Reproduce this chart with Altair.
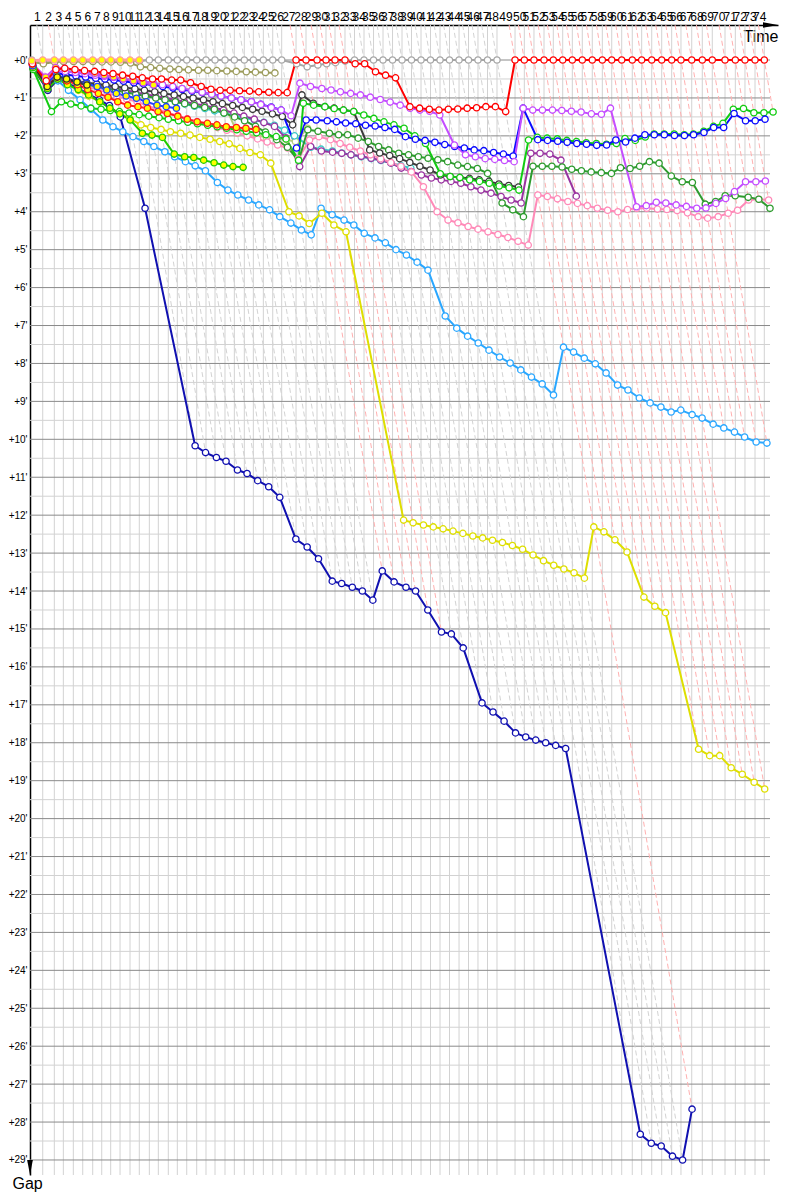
import altair as alt
import pandas as pd

# leader's elapsed time (minutes) at the end of each lap 0..74
leader_time = [0, 1.72, 3.53, 4.94, 6.50, 7.97, 9.53, 10.94, 12.34, 13.80,
               15.36, 16.81, 18.38, 19.78, 21.34, 22.75, 24.22, 25.78, 27.23, 28.64,
               30.20, 31.66, 33.22, 34.63, 36.19, 37.66, 39.06, 41.30, 42.86, 44.58,
               45.98, 47.39, 48.95, 50.44, 51.92, 53.41, 54.89, 56.38, 57.86, 59.34,
               60.83, 62.31, 63.80, 65.28, 66.77, 68.25, 69.73, 71.22, 72.70, 75.52,
               76.97, 78.48, 80.05, 81.50, 82.97, 84.47, 86.03, 87.59, 89.16, 90.63,
               92.19, 93.84, 95.31, 96.88, 98.44, 100.00, 101.45, 103.13, 104.78, 106.34,
               108.33, 109.94, 111.45, 113.02, 114.47]

lap_labels = [str(n) for n in range(1, 75)]
gap_ticks = list(range(0, 30))
red_led_laps = [27, 28, 29, 30, 31, 32] + list(range(49, 75))
pink_led_laps = [2]

# gap to leader (minutes) per lap, starting at lap 0
gap_G = [0, 0.05, 0.04, 0.03, 0.03, 0.03, 0.03, 0.03, 0.03, 0.03, 0.03, 0.03,
         0, 0, 0, 0, 0, 0, 0, 0, 0, 0, 0, 0, 0, 0, 0,
         0.1, 0.18, 0.13, 0.1, 0.07, 0.03,
         0, 0, 0, 0, 0, 0, 0, 0, 0, 0, 0, 0, 0, 0, 0, 0]
gap_O = [0.05, 0.1, 0.05, 0.04, 0.04, 0.04, 0.04, 0.05, 0.05, 0.06, 0.08, 0.18, 0.2,
         0.22, 0.24, 0.25, 0.26, 0.27, 0.27, 0.28, 0.29, 0.3, 0.31, 0.32, 0.33, 0.34]
gap_SG = [0.1, 0.5, 0.2, 0.25, 0.28, 0.32, 0.36, 0.4, 0.44, 0.48, 0.52, 0.56, 0.6, 0.65,
          0.7, 0.75, 0.8, 0.86, 0.92, 0.97, 1.93, 1.97, 2.0, 2.03, 2.06, 2.1, 2.15, 1.8]
gap_C = [0.2, 0.72, 0.45, 0.5, 0.55, 0.6, 0.65, 0.7, 0.75, 0.8, 0.86, 0.92, 0.98, 1.04,
         1.1, 1.16, 1.22, 1.28, 1.34, 1.4, 1.46, 1.52, 1.58, 1.64, 1.72, 1.85, 2.0,
         2.3, 2.35, 2.4, 2.45, 2.5, 2.55, 2.6, 2.65, 2.72, 2.78, 2.85]
gap_PU = [0.2, 0.7, 0.45, 0.5, 0.55, 0.6, 0.65, 0.7, 0.75, 0.8, 0.85, 0.9, 0.95, 1.0,
          1.05, 1.1, 1.15, 1.2, 1.26, 1.32, 1.4, 1.48, 1.56, 1.65, 1.75, 2.05, 2.81,
          2.28, 2.4, 2.43, 2.46, 2.5, 2.54, 2.59, 2.64, 2.72, 2.85, 2.94, 3.03, 3.11,
          3.16, 3.2, 3.25, 3.34, 3.43, 3.51, 3.6, 3.69, 3.77,
          2.46, 2.46, 2.48, 2.64, 3.59]
gap_P = [0.15, 0.7, 0.5, 0.55, 0.62, 0.7, 0.78, 0.86, 0.95, 1.03, 1.1, 1.2, 1.3, 1.38,
         1.47, 1.55, 1.62, 1.7, 1.78, 1.85, 1.92, 2.0, 2.08, 2.16, 2.24, 2.32, 2.6,
         2.11, 2.02, 2.1, 2.2, 2.3, 2.4, 2.5, 2.6, 2.7, 2.8, 2.95,
         3.34, 4.0, 4.22, 4.29, 4.39, 4.46, 4.53, 4.6, 4.68, 4.78, 4.88,
         3.56, 3.6, 3.66,
         3.73, 3.78, 3.84, 3.91, 3.96, 4.0, 3.94, 3.91, 3.91, 3.93, 3.94, 3.97, 4.03,
         4.13, 4.17, 4.13, 4.04, 3.96, 3.69, 3.67, 3.69]
gap_DG = [0.2, 0.75, 0.5, 0.55, 0.6, 0.65, 0.7, 0.75, 0.8, 0.85, 0.9, 0.95, 1.0, 1.05,
          1.1, 1.15, 1.2, 1.25, 1.3, 1.4, 1.5, 1.6, 1.75, 1.9, 2.1, 2.3, 2.65,
          1.84, 1.88, 1.93, 1.97, 1.97, 2.06, 2.15, 2.28, 2.37, 2.46, 2.5, 2.55, 2.59,
          2.63, 2.68, 2.77, 2.81, 2.86, 2.99, 3.77, 3.95, 4.13,
          2.8, 2.8, 2.8, 2.82, 2.88, 2.92, 2.95, 2.97, 2.99, 2.84, 2.86, 2.8, 2.68,
          2.72, 3.06, 3.21, 3.23, 3.8, 3.73, 3.58, 3.58, 3.62, 3.67, 3.91]
gap_K = [0.2, 0.79, 0.53, 0.55, 0.58, 0.6, 0.63, 0.66, 0.7, 0.73, 0.76, 0.8, 0.84, 0.88,
         0.92, 0.96, 1.0, 1.05, 1.1, 1.15, 1.2, 1.25, 1.3, 1.35, 1.42, 1.49, 1.71,
         0.92, 1.14, 1.23, 1.27, 1.32, 1.36,
         2.37, 2.45, 2.52, 2.6, 2.7, 2.8, 2.9,
         3.03, 3.07, 3.1, 3.12, 3.16, 3.2, 3.27, 3.31, 3.35]
gap_LB = [0.2, 0.75, 0.55, 0.8, 1.05, 1.3, 1.58, 1.76, 1.89, 2.02, 2.15, 2.28, 2.42,
          2.55, 2.68, 2.79, 2.92, 3.23, 3.43, 3.56, 3.69, 3.82, 3.95, 4.13, 4.3, 4.48, 4.61,
          3.91, 4.08, 4.22, 4.35, 4.57, 4.69, 4.82, 5.0, 5.14, 5.33, 5.54, 6.75, 7.07,
          7.28, 7.46, 7.65, 7.83, 7.99, 8.17, 8.36, 8.54, 8.83,
          7.57, 7.7, 7.86, 8.01, 8.25, 8.57, 8.7, 8.91, 9.04, 9.15, 9.28, 9.23, 9.35,
          9.44, 9.6, 9.7, 9.81, 9.94, 10.07, 10.1]
gap_Y = [0.2, 0.8, 0.5, 0.65, 0.8, 0.95, 1.1, 1.25, 1.4, 1.55,
         1.71, 1.78, 1.83, 1.89, 1.93, 1.98, 2.04, 2.09, 2.15, 2.21, 2.33, 2.44, 2.5, 2.72,
         4.0, 4.11, 4.31, 4.04, 4.35, 4.53,
         12.13, 12.2, 12.26, 12.31, 12.36, 12.42, 12.48, 12.55, 12.6, 12.66, 12.72,
         12.8, 12.9, 13.05, 13.2, 13.32, 13.42, 13.52, 13.66,
         12.31, 12.44, 12.65, 12.97, 14.16, 14.4, 14.57, 18.17, 18.34, 18.34, 18.66,
         18.83, 19.04, 19.22]
gap_N = [0.2, 0.8, 0.5, 0.6, 0.75, 0.9, 1.05, 1.2, 1.5,
         3.91, 10.17, 10.35, 10.48, 10.58, 10.81, 10.9, 11.09, 11.25, 11.53, 12.63,
         12.84, 13.15, 13.74, 13.8, 13.9, 14.0, 14.24, 13.47, 13.76, 13.9, 14.0, 14.5,
         15.08, 15.13, 15.5,
         16.95, 17.19, 17.43, 17.74, 17.85, 17.93, 18.0, 18.07, 18.15,
         28.32, 28.56, 28.63, 28.9, 29.0, 27.66]
gap_LG = [0.25, 1.36, 1.1, 1.16, 1.21, 1.27, 1.3, 1.33, 1.36, 1.4, 1.44, 1.48, 1.52,
          1.56, 1.6, 1.64, 1.68, 1.72, 1.76, 1.8, 1.84, 1.88, 1.92, 1.97, 2.02, 2.08, 2.64,
          1.14, 1.19, 1.23, 1.28, 1.32, 1.36, 1.45, 1.54, 1.63, 1.71, 1.8, 2.0, 2.2,
          3.0, 3.07, 3.1, 3.16, 3.2, 3.25, 3.32, 3.37, 3.43,
          2.11, 2.04, 2.06, 2.08, 2.12, 2.15, 2.18, 2.2, 2.22, 2.2, 2.07, 2.12, 2.03,
          1.95, 1.95, 1.95, 1.97, 1.95, 1.88, 1.75,
          1.67, 1.3, 1.28, 1.39, 1.39, 1.37]
gap_B = [0.15, 0.6, 0.35, 0.38, 0.42, 0.45, 0.48, 0.5, 0.53, 0.56, 0.6, 0.63, 0.66, 0.7,
         0.74, 0.78, 0.82, 0.86, 0.9, 0.95, 1.0, 1.05, 1.1, 1.17, 1.24, 1.32, 2.32,
         1.58, 1.58, 1.6, 1.63, 1.66, 1.68, 1.72, 1.74, 1.78, 1.83, 2.02, 2.09, 2.12,
         2.17, 2.23, 2.28, 2.32, 2.37, 2.39, 2.44, 2.48, 2.53,
         1.27,
         2.1, 2.12, 2.14, 2.17, 2.2, 2.22, 2.25, 2.24, 2.11, 2.16, 2.06, 1.97, 1.97,
         1.97, 1.99, 1.99, 1.97, 1.91, 1.78, 1.78, 1.41, 1.6, 1.6, 1.56]
gap_M = [0.15, 0.6, 0.3, 0.3, 0.33, 0.36, 0.4, 0.43, 0.46, 0.5, 0.53, 0.56, 0.6, 0.65,
         0.7, 0.75, 0.8, 0.85, 0.9, 0.95, 1.0, 1.05, 1.1, 1.17, 1.25, 1.32, 1.47,
         0.61, 0.70, 0.75, 0.79, 0.84, 0.88, 0.92, 0.98, 1.04, 1.11, 1.19, 1.27, 1.32,
         1.35, 1.45,
         2.24, 2.5, 2.55, 2.6, 2.62, 2.65, 2.68,
         1.27, 1.32, 1.32, 1.32, 1.33, 1.35, 1.37, 1.42, 1.43, 1.27,
         3.87, 3.84, 3.75, 3.77, 3.82, 3.86, 3.91, 3.9, 3.78, 3.65, 3.47, 3.21, 3.21, 3.19]
gap_GY = [0.2, 0.75, 0.5, 0.65, 0.78, 0.92, 1.1, 1.27, 1.42, 1.58, 1.93, 1.98, 2.04,
          2.48, 2.55, 2.57, 2.64, 2.71, 2.77, 2.81, 2.83]
gap_RY = [0.15, 0.65, 0.45, 0.55, 0.65, 0.78, 0.88, 0.98, 1.1, 1.19, 1.23, 1.27, 1.36,
          1.41, 1.48, 1.56, 1.63, 1.67, 1.71, 1.76, 1.78, 1.8, 1.83]
gap_BY = [0.15, 0.6, 0.4, 0.48, 0.57, 0.62, 0.7, 0.79, 0.88, 0.95, 1.01, 1.1, 1.19,
          1.23, 1.27]
gap_MY = [0.1, 0.45, 0.2, 0.22, 0.26, 0.3, 0.35, 0.4, 0.45, 0.5, 0.55, 0.6, 0.66]
gap_KY = [0.1, 0.7, 0.45, 0.5, 0.58, 0.66]
gap_R = [0.1, 0.55, 0.25, 0.22, 0.25, 0.28, 0.3, 0.33, 0.36, 0.4, 0.43, 0.47, 0.5, 0.5,
         0.53, 0.53, 0.6, 0.7, 0.77, 0.8, 0.8, 0.81, 0.82, 0.84, 0.85, 0.86, 0.86,
         0, 0, 0, 0, 0, 0,
         0.1, 0.1, 0.31, 0.4, 0.47,
         1.23, 1.27, 1.3, 1.32, 1.3, 1.29, 1.27, 1.26, 1.23, 1.23, 1.36,
         0, 0, 0, 0, 0, 0, 0, 0, 0, 0, 0, 0, 0, 0, 0, 0, 0, 0, 0, 0, 0, 0, 0, 0, 0, 0]
gap_PY = [0.02, 0, 0, 0, 0, 0, 0, 0, 0, 0, 0, 0]

car_names = ["G", "O", "SG", "C", "PU", "P", "DG", "K", "LB", "Y", "N", "LG", "B",
             "M", "GY", "RY", "BY", "MY", "KY", "R", "PY"]
car_gaps = [gap_G, gap_O, gap_SG, gap_C, gap_PU, gap_P, gap_DG, gap_K, gap_LB, gap_Y,
            gap_N, gap_LG, gap_B, gap_M, gap_GY, gap_RY, gap_BY, gap_MY, gap_KY, gap_R,
            gap_PY]
car_colors = ["#a6a6a6", "#9c9c5c", "#b5cc80", "#3cc8c8", "#9933a0", "#ff8ab8",
              "#2e9b2e", "#3a3a3a", "#2aa7ff", "#dede00", "#1010b0", "#11cc11",
              "#0a0aff", "#c44dff", "#22cc00", "#ff1a1a", "#1f3fff", "#cc44ee",
              "#303030", "#ff0000", "#ff9e9e"]
car_fills = ["white", "white", "white", "white", "white", "white", "white", "white",
             "white", "white", "white", "white", "white", "white", "#ffff00", "#ffff00",
             "#ffff00", "#ffff00", "#ffff00", "white", "#ffff00"]
car_widths = [2, 2, 2, 2, 2, 2, 2, 2, 2, 2, 2, 2, 2, 2, 2, 2, 2, 2, 2, 2, 3]

# ---- tables built from the arrays ----
rows = []
for order, (name, gaps, fillc, w) in enumerate(zip(car_names, car_gaps, car_fills, car_widths)):
    for lap, g in enumerate(gaps):
        rows.append({"car": name, "lap": lap, "gap": g, "t": leader_time[lap] + g,
                     "fillc": fillc, "w": w, "ord": order})
pts = pd.DataFrame(rows)

Y_MIN, Y_MAX = -0.923, 29.396
X_MIN, X_MAX = -0.27, 116.61
X_GRID_END = 115.36

maxgap = pts.groupby("lap")["gap"].max()
dash_rows = []
for lap in range(1, 75):
    col = "#d3d3d3"
    if lap in red_led_laps:
        col = "#ffb0b0"
    if lap in pink_led_laps:
        col = "#ffc0c0"
    mg = float(maxgap.get(lap, 0))
    dash_rows.append({"x1": leader_time[lap] + Y_MIN, "y1": Y_MIN,
                      "x2": leader_time[lap] + mg, "y2": mg, "col": col})
dashes = pd.DataFrame(dash_rows)

vgrid = pd.DataFrame({"t": leader_time[1:], "y1": Y_MIN, "y2": Y_MAX})
hmajor = pd.DataFrame({"g": gap_ticks, "x1": X_MIN, "x2": X_GRID_END})
hminor = pd.DataFrame({"g": [v + 0.5 for v in gap_ticks[:-1]], "x1": X_MIN, "x2": X_GRID_END})
labels = pd.DataFrame({"mid": [(leader_time[i - 1] + leader_time[i]) / 2 for i in range(1, 75)],
                       "lab": lap_labels, "y": Y_MIN})
arrows = pd.DataFrame({"x": [X_MAX - 1.17, X_MIN], "y": [Y_MIN, Y_MAX - 0.198],
                       "shape": ["M-1,-0.38L1,0L-1,0.38Z", "M-0.38,-1L0,1L0.38,-1Z"]})

xs = alt.Scale(domain=[X_MIN, X_MAX], nice=False, zero=False)
ys = alt.Scale(domain=[Y_MIN, Y_MAX], nice=False, zero=False, reverse=True)
color_scale = alt.Scale(domain=car_names, range=car_colors)

FONT = "Liberation Sans"

x_axis = alt.Axis(
    orient="top", labels=False, ticks=False, grid=False, domainColor="black",
    domainWidth=1.5, title="Time", titleX=748, titleY=16, titleAlign="right",
    titleBaseline="alphabetic", titleFont=FONT, titleFontSize=16,
    titleFontWeight="normal", titleColor="black")
y_axis = alt.Axis(
    values=gap_ticks, labelExpr="'+' + datum.value + \"'\"", ticks=False, grid=False,
    domainColor="black", domainWidth=1.5, labelFont=FONT, labelFontSize=10,
    labelColor="black", labelPadding=3, title="Gap", titleX=-18, titleY=1163,
    titleAngle=0, titleAlign="left", titleBaseline="alphabetic", titleFont=FONT,
    titleFontSize=16, titleFontWeight="normal", titleColor="black")

vg = alt.Chart(vgrid).mark_rule(color="#d2d2d2", strokeWidth=1).encode(
    x=alt.X("t:Q", scale=xs, axis=x_axis), y=alt.Y("y1:Q", scale=ys, axis=y_axis), y2="y2:Q")
hmi = alt.Chart(hminor).mark_rule(color="#d2d2d2", strokeWidth=1).encode(
    y=alt.Y("g:Q", scale=ys, axis=y_axis), x=alt.X("x1:Q", scale=xs, axis=x_axis), x2="x2:Q")
hma = alt.Chart(hmajor).mark_rule(color="#8a8a8a", strokeWidth=1).encode(
    y=alt.Y("g:Q", scale=ys, axis=y_axis), x=alt.X("x1:Q", scale=xs, axis=x_axis), x2="x2:Q")

dl = alt.Chart(dashes).mark_rule(strokeDash=[5, 3], strokeWidth=1).encode(
    x=alt.X("x1:Q", scale=xs, axis=x_axis), y=alt.Y("y1:Q", scale=ys, axis=y_axis),
    x2="x2:Q", y2="y2:Q", color=alt.Color("col:N", scale=None))

lines = alt.Chart(pts).mark_line(strokeJoin="round").encode(
    x=alt.X("t:Q", scale=xs, axis=x_axis),
    y=alt.Y("gap:Q", scale=ys, axis=y_axis),
    color=alt.Color("car:N", scale=color_scale, legend=None),
    strokeWidth=alt.StrokeWidth("w:Q", scale=None),
    order="lap:Q")

points = alt.Chart(pts).mark_point(shape="circle", filled=True, size=40, strokeWidth=1.3,
                                   opacity=1).encode(
    x=alt.X("t:Q", scale=xs, axis=x_axis), y=alt.Y("gap:Q", scale=ys, axis=y_axis),
    fill=alt.Fill("fillc:N", scale=None),
    stroke=alt.Stroke("car:N", scale=color_scale, legend=None))

lab = alt.Chart(labels).mark_text(font=FONT, fontSize=12, baseline="alphabetic",
                                  align="center", color="black", dy=-4).encode(
    x=alt.X("mid:Q", scale=xs, axis=x_axis), y=alt.Y("y:Q", scale=ys, axis=y_axis),
    text="lab:N")

arr = alt.Chart(arrows).mark_point(filled=True, color="black", size=225, opacity=1).encode(
    x=alt.X("x:Q", scale=xs, axis=x_axis), y=alt.Y("y:Q", scale=ys, axis=y_axis),
    shape=alt.Shape("shape:N", scale=None))

chart = alt.layer(vg, hmi, hma, dl, lines, points, lab, arr).properties(
    width=748, height=1150,
    autosize=alt.AutoSizeParams(type="none"),
    padding={"left": 22, "top": 17, "right": 10, "bottom": 20},
    background="white",
).configure_view(stroke=None)

chart.save("out.html", embed_options={"renderer": "svg", "actions": False})
